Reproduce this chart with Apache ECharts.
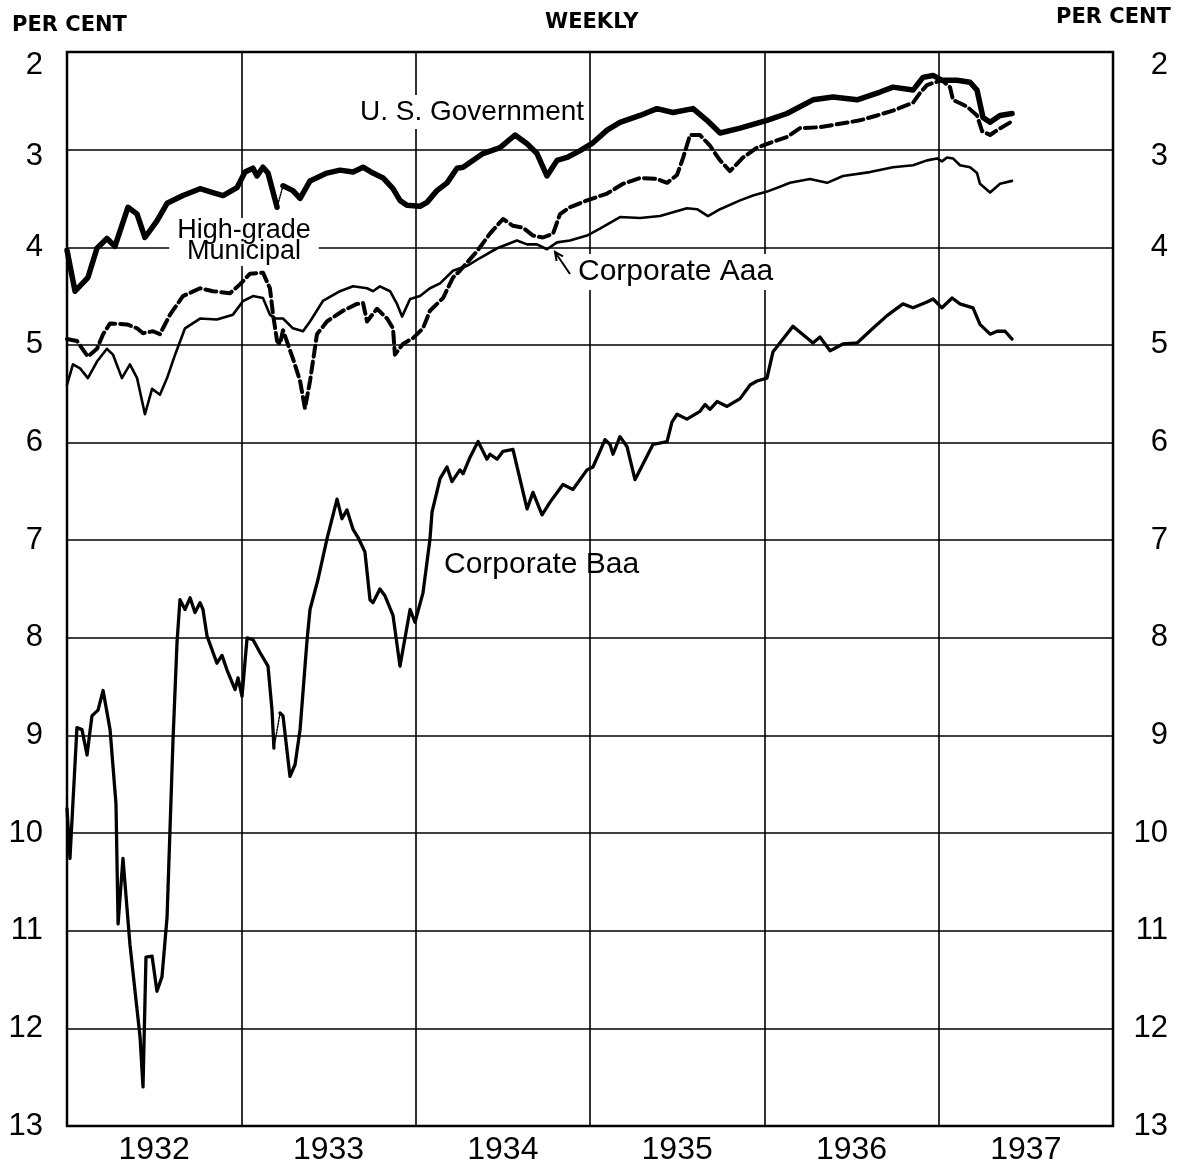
<!DOCTYPE html>
<html>
<head>
<meta charset="utf-8">
<script src="https://cdn.jsdelivr.net/npm/echarts@6/dist/echarts.min.js"></script>
<style>
    html, body { margin: 0; padding: 0; background: #fff; }
    #chart { width: 1180px; height: 1172px; }
</style>
</head>
<body>
<div id="chart"></div>
<script>
// x = decimal year, y = yield in per cent
var years = ['1932', '1933', '1934', '1935', '1936', '1937'];
var yTicks = [2, 13];

var govEarly = [
    [1932.000, 4.03], [1932.046, 4.45], [1932.120, 4.31], [1932.172, 4.01], [1932.229, 3.91],
    [1932.275, 3.99], [1932.350, 3.59], [1932.402, 3.66], [1932.447, 3.90], [1932.516, 3.73],
    [1932.574, 3.55], [1932.665, 3.47], [1932.763, 3.40], [1932.837, 3.44], [1932.895, 3.47],
    [1932.975, 3.39], [1933.021, 3.23], [1933.067, 3.19], [1933.090, 3.27], [1933.124, 3.18],
    [1933.153, 3.24], [1933.205, 3.59]
];
var govLate = [
    [1933.239, 3.37], [1933.296, 3.42], [1933.337, 3.50], [1933.394, 3.32], [1933.491, 3.24],
    [1933.566, 3.21], [1933.641, 3.23], [1933.698, 3.18], [1933.755, 3.24], [1933.813, 3.29],
    [1933.870, 3.40], [1933.910, 3.52], [1933.950, 3.57], [1934.025, 3.58], [1934.065, 3.54],
    [1934.122, 3.42], [1934.180, 3.34], [1934.237, 3.19], [1934.272, 3.18], [1934.386, 3.04],
    [1934.484, 2.98], [1934.570, 2.85], [1934.639, 2.94], [1934.696, 3.04], [1934.753, 3.27],
    [1934.811, 3.11], [1934.868, 3.08], [1934.943, 3.01], [1935.017, 2.93], [1935.098, 2.80],
    [1935.172, 2.72], [1935.287, 2.65], [1935.384, 2.58], [1935.476, 2.62], [1935.591, 2.58],
    [1935.671, 2.70], [1935.746, 2.83], [1935.861, 2.78], [1936.015, 2.70], [1936.130, 2.63],
    [1936.279, 2.49], [1936.394, 2.46], [1936.532, 2.49], [1936.664, 2.41], [1936.738, 2.36],
    [1936.853, 2.39], [1936.910, 2.26], [1936.968, 2.24], [1937.019, 2.29], [1937.105, 2.29],
    [1937.180, 2.31], [1937.220, 2.39], [1937.254, 2.67], [1937.295, 2.72], [1937.352, 2.65],
    [1937.421, 2.63]
];

var muni = [
    [1932.000, 4.94], [1932.057, 4.96], [1932.120, 5.12], [1932.172, 5.04], [1932.207, 4.89],
    [1932.247, 4.78], [1932.344, 4.79], [1932.402, 4.83], [1932.436, 4.88], [1932.493, 4.86],
    [1932.533, 4.89], [1932.591, 4.69], [1932.665, 4.50], [1932.763, 4.42], [1932.837, 4.45],
    [1932.935, 4.47], [1932.992, 4.38], [1933.050, 4.27], [1933.124, 4.26], [1933.164, 4.42],
    [1933.182, 4.69], [1933.205, 4.96], [1933.222, 4.99], [1933.239, 4.85], [1933.296, 5.14],
    [1933.337, 5.37], [1933.365, 5.65], [1933.394, 5.37], [1933.434, 4.89], [1933.491, 4.76],
    [1933.583, 4.65], [1933.663, 4.58], [1933.698, 4.57], [1933.721, 4.76], [1933.778, 4.63],
    [1933.836, 4.73], [1933.870, 4.83], [1933.881, 5.10], [1933.927, 4.99], [1933.985, 4.93],
    [1934.042, 4.83], [1934.082, 4.65], [1934.157, 4.52], [1934.214, 4.31], [1934.254, 4.24],
    [1934.352, 4.04], [1934.426, 3.86], [1934.501, 3.71], [1934.558, 3.78], [1934.616, 3.80],
    [1934.673, 3.88], [1934.730, 3.90], [1934.788, 3.86], [1934.828, 3.66], [1934.885, 3.59],
    [1934.983, 3.52], [1935.098, 3.45], [1935.189, 3.35], [1935.287, 3.29], [1935.384, 3.30],
    [1935.442, 3.34], [1935.499, 3.26], [1935.533, 3.09], [1935.574, 2.85], [1935.631, 2.85],
    [1935.688, 2.96], [1935.746, 3.11], [1935.803, 3.22], [1935.878, 3.08], [1935.958, 2.98],
    [1936.033, 2.93], [1936.130, 2.87], [1936.205, 2.78], [1936.319, 2.77], [1936.451, 2.73],
    [1936.549, 2.70], [1936.646, 2.65], [1936.738, 2.60], [1936.853, 2.52], [1936.893, 2.42],
    [1936.933, 2.34], [1936.979, 2.31], [1937.019, 2.29], [1937.065, 2.36], [1937.082, 2.49],
    [1937.163, 2.56], [1937.220, 2.65], [1937.249, 2.81], [1937.295, 2.85], [1937.335, 2.80],
    [1937.421, 2.71]
];

var aaa = [
    [1932.000, 5.41], [1932.034, 5.20], [1932.075, 5.24], [1932.120, 5.34], [1932.172, 5.17],
    [1932.229, 5.04], [1932.264, 5.10], [1932.315, 5.34], [1932.361, 5.20], [1932.402, 5.34],
    [1932.447, 5.71], [1932.488, 5.45], [1932.533, 5.51], [1932.574, 5.34], [1932.620, 5.10],
    [1932.677, 4.83], [1932.763, 4.73], [1932.860, 4.74], [1932.952, 4.69], [1933.010, 4.55],
    [1933.067, 4.50], [1933.124, 4.52], [1933.164, 4.69], [1933.193, 4.73], [1933.239, 4.73],
    [1933.296, 4.83], [1933.354, 4.86], [1933.394, 4.76], [1933.468, 4.55], [1933.566, 4.45],
    [1933.641, 4.40], [1933.721, 4.42], [1933.755, 4.45], [1933.795, 4.40], [1933.853, 4.45],
    [1933.893, 4.58], [1933.922, 4.71], [1933.968, 4.53], [1934.025, 4.50], [1934.082, 4.42],
    [1934.140, 4.37], [1934.214, 4.24], [1934.295, 4.19], [1934.369, 4.11], [1934.467, 4.01],
    [1934.581, 3.93], [1934.639, 3.97], [1934.696, 3.97], [1934.753, 4.02], [1934.811, 3.95],
    [1934.885, 3.93], [1934.983, 3.88], [1935.057, 3.81], [1935.172, 3.69], [1935.287, 3.70],
    [1935.402, 3.68], [1935.556, 3.60], [1935.614, 3.61], [1935.677, 3.68], [1935.746, 3.61],
    [1935.861, 3.52], [1935.935, 3.47], [1936.015, 3.43], [1936.090, 3.38], [1936.147, 3.34],
    [1936.262, 3.30], [1936.360, 3.34], [1936.451, 3.27], [1936.606, 3.23], [1936.738, 3.18],
    [1936.853, 3.16], [1936.933, 3.11], [1936.991, 3.09], [1937.019, 3.12], [1937.048, 3.08],
    [1937.082, 3.09], [1937.122, 3.16], [1937.180, 3.18], [1937.220, 3.24], [1937.237, 3.35],
    [1937.295, 3.44], [1937.352, 3.35], [1937.421, 3.32]
];

var baaEarly = [
    [1932.000, 9.75], [1932.017, 10.26], [1932.057, 8.92], [1932.086, 8.94], [1932.115, 9.20],
    [1932.143, 8.80], [1932.178, 8.74], [1932.207, 8.54], [1932.247, 8.94], [1932.281, 9.70],
    [1932.293, 10.93], [1932.321, 10.26], [1932.361, 11.14], [1932.419, 12.09], [1932.436, 12.60],
    [1932.453, 11.27], [1932.488, 11.26], [1932.516, 11.62], [1932.545, 11.47], [1932.574, 10.86],
    [1932.608, 9.05], [1932.631, 8.05], [1932.648, 7.61], [1932.677, 7.71], [1932.706, 7.59],
    [1932.734, 7.74], [1932.763, 7.64], [1932.780, 7.71], [1932.803, 7.98], [1932.860, 8.26],
    [1932.889, 8.18], [1932.918, 8.33], [1932.964, 8.53], [1932.981, 8.41], [1933.004, 8.60],
    [1933.033, 8.00], [1933.067, 8.02], [1933.107, 8.15], [1933.153, 8.29], [1933.176, 8.74],
    [1933.187, 9.13]
];
var baaLate = [
    [1933.222, 8.77], [1933.239, 8.80], [1933.279, 9.42], [1933.308, 9.30], [1933.337, 8.94],
    [1933.377, 8.02], [1933.394, 7.71], [1933.440, 7.40], [1933.491, 6.99], [1933.549, 6.58],
    [1933.577, 6.78], [1933.606, 6.69], [1933.641, 6.89], [1933.669, 6.97], [1933.709, 7.12],
    [1933.738, 7.61], [1933.755, 7.64], [1933.795, 7.50], [1933.824, 7.57], [1933.870, 7.77],
    [1933.910, 8.29], [1933.968, 7.71], [1933.996, 7.84], [1934.042, 7.54], [1934.082, 6.99],
    [1934.094, 6.71], [1934.140, 6.37], [1934.180, 6.25], [1934.208, 6.40], [1934.254, 6.28],
    [1934.272, 6.32], [1934.312, 6.15], [1934.358, 5.99], [1934.409, 6.17], [1934.426, 6.12],
    [1934.467, 6.17], [1934.501, 6.09], [1934.558, 6.07], [1934.639, 6.68], [1934.673, 6.51],
    [1934.725, 6.74], [1934.771, 6.61], [1934.845, 6.43], [1934.902, 6.48], [1934.983, 6.28],
    [1935.017, 6.25], [1935.057, 6.09], [1935.086, 5.97], [1935.115, 6.02], [1935.132, 6.12],
    [1935.172, 5.94], [1935.212, 6.04], [1935.258, 6.38], [1935.304, 6.22], [1935.361, 6.02],
    [1935.442, 5.99], [1935.470, 5.79], [1935.499, 5.71], [1935.556, 5.76], [1935.631, 5.68],
    [1935.660, 5.61], [1935.688, 5.66], [1935.729, 5.58], [1935.786, 5.63], [1935.861, 5.55],
    [1935.918, 5.41], [1935.958, 5.37], [1936.015, 5.34], [1936.050, 5.07], [1936.107, 4.94],
    [1936.164, 4.81], [1936.245, 4.93], [1936.279, 4.98], [1936.319, 4.92], [1936.377, 5.06],
    [1936.451, 4.99], [1936.532, 4.98], [1936.623, 4.83], [1936.704, 4.70], [1936.795, 4.58],
    [1936.853, 4.62], [1936.933, 4.56], [1936.968, 4.53], [1937.019, 4.62], [1937.077, 4.52],
    [1937.122, 4.58], [1937.197, 4.62], [1937.237, 4.79], [1937.295, 4.89], [1937.335, 4.86],
    [1937.381, 4.86], [1937.421, 4.94]
];

var labelFont = '"Liberation Sans", Arial, sans-serif';

function line(data, width, type) {
    return {
        type: 'line',
        data: data,
        showSymbol: false,
        silent: true,
        z: 3,
        lineStyle: { color: '#000', width: width, type: type || 'solid', join: 'round', cap: 'round' }
    };
}

// the top two tick numbers sit a little below their grid lines on the original
function tickText(v) {
    if (v === 2) return '{a|2}';
    if (v === 3) return '{b|3}';
    return String(v);
}
var tickRich = { a: { padding: [26, 0, 0, 0] }, b: { padding: [14, 0, 0, 0] } };

function chart(id) {
    var myChart = echarts.init(document.getElementById(id), null, { renderer: 'canvas' });
    var gridLine = { show: true, lineStyle: { color: '#000', width: 1.6 } };
    var tickLabel = { color: '#000', fontSize: 31, fontFamily: labelFont, formatter: tickText, rich: tickRich };
    option = {
        animation: false,
        backgroundColor: '#fff',
        grid: {
            left: 67, right: 67, top: 52, bottom: 46,
            show: true, borderColor: '#000', borderWidth: 2.5, backgroundColor: 'transparent'
        },
        xAxis: [
            {
                type: 'value', min: 1932, max: 1938, interval: 1,
                axisLabel: { show: false }, axisTick: { show: false }, axisLine: { show: false },
                splitLine: gridLine
            },
            {
                type: 'category', data: years, position: 'bottom', boundaryGap: true,
                axisTick: { show: false }, axisLine: { show: false }, splitLine: { show: false },
                axisLabel: { color: '#000', fontSize: 32, fontFamily: labelFont, margin: 8 }
            }
        ],
        yAxis: [
            {
                type: 'value', inverse: true, min: yTicks[0], max: yTicks[1], interval: 1,
                position: 'left',
                axisTick: { show: false }, axisLine: { show: false },
                axisLabel: echarts.util.extend({ margin: 24 }, tickLabel),
                splitLine: gridLine
            },
            {
                type: 'value', inverse: true, min: yTicks[0], max: yTicks[1], interval: 1,
                position: 'right',
                axisTick: { show: false }, axisLine: { show: false }, splitLine: { show: false },
                axisLabel: echarts.util.extend({ margin: 55, align: 'right' }, tickLabel)
            }
        ],
        graphic: [
            { type: 'text', left: 12, top: 15, z: 5, style: { text: 'PER CENT', font: 'bold 21px "DejaVu Sans"', fill: '#000' } },
            { type: 'text', left: 1056, top: 7, z: 5, style: { text: 'PER CENT', font: 'bold 21px "DejaVu Sans"', fill: '#000' } },
            { type: 'text', left: 545, top: 12, z: 5, style: { text: 'WEEKLY', font: 'bold 21px "DejaVu Sans"', fill: '#000' } },
            {
                type: 'text', left: 356, top: 95, z: 1,
                style: { text: 'U. S. Government', font: '28px ' + labelFont, fill: '#000',
                         backgroundColor: '#fff', padding: [3, 4, 3, 4] }
            },
            {
                type: 'text', x: 244, y: 218, z: 1,
                style: { text: 'High-grade\nMunicipal', font: '27px ' + labelFont, lineHeight: 21,
                         align: 'center', verticalAlign: 'top', fill: '#000',
                         backgroundColor: '#fff', padding: [2, 8, 4, 8] }
            },
            {
                type: 'text', left: 574, top: 254, z: 1,
                style: { text: 'Corporate Aaa', font: '30px ' + labelFont, fill: '#000',
                         backgroundColor: '#fff', padding: [3, 4, 3, 4] }
            },
            {
                type: 'text', left: 444, top: 550, z: 1,
                style: { text: 'Corporate Baa', font: '30px ' + labelFont, fill: '#000' }
            },
            // little arrow from the Aaa label to its line
            { type: 'line', z: 4, shape: { x1: 570, y1: 274, x2: 555, y2: 252 }, style: { stroke: '#000', lineWidth: 2 } },
            { type: 'polyline', z: 4, shape: { points: [[556.6, 261], [555, 252], [563, 256.4]] }, style: { stroke: '#000', lineWidth: 2, fill: null } }
        ],
        series: [
            line(govEarly, 5.5),
            line(govLate, 5.5),
            line([govEarly[govEarly.length - 1], govLate[0]], 1.5, 'dotted'),
            line(muni, 4, [11, 5]),
            line(aaa, 2.6),
            line(baaEarly, 3.3),
            line(baaLate, 3.3),
            line([baaEarly[baaEarly.length - 1], baaLate[0]], 1.5, 'dotted')
        ]
    };
    myChart.setOption(option);
    return myChart;
}

var chartInit = chart('chart');
window.addEventListener('resize', function () {
    chartInit.resize();
});
</script>
</body>
</html>
